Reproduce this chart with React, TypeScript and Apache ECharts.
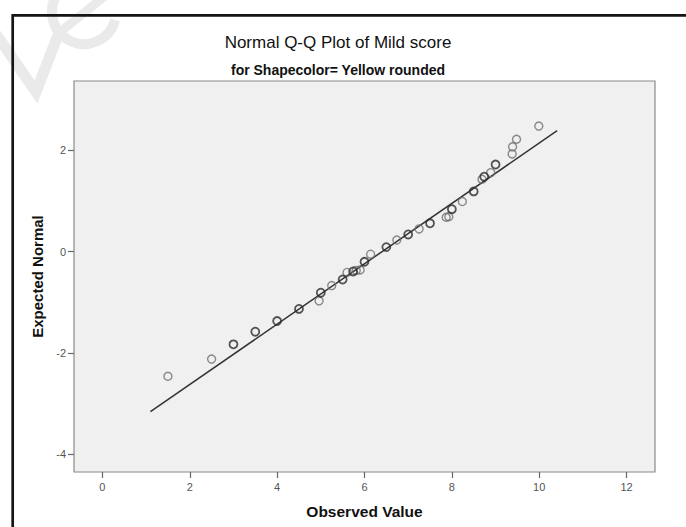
import React, { useEffect, useRef } from 'react';
import * as echarts from 'echarts';

const titleText = 'Normal Q-Q Plot of Mild score';
const subtitleText = 'for Shapecolor= Yellow rounded';
const xAxisTitle = 'Observed Value';
const yAxisTitle = 'Expected Normal';

const xTicks = [0, 2, 4, 6, 8, 10, 12];
const yTicks = [-4, -2, 0, 2];

const tiedObserved = [3.0, 3.5, 4.0, 4.5, 5.0, 5.5, 5.74, 6.0, 6.5, 7.0, 7.5, 8.0, 8.5, 8.74, 9.0];
const tiedExpected = [-1.83, -1.58, -1.37, -1.13, -0.81, -0.55, -0.39, -0.2, 0.09, 0.34, 0.56, 0.84, 1.19, 1.48, 1.72];

const singleObserved = [1.5, 2.5, 4.96, 5.25, 5.6, 5.81, 5.9, 6.14, 6.74, 7.25, 7.87, 7.93, 8.24, 8.69, 8.89, 9.38, 9.39, 9.48, 9.99];
const singleExpected = [-2.46, -2.12, -0.97, -0.67, -0.41, -0.37, -0.36, -0.05, 0.23, 0.45, 0.68, 0.69, 0.99, 1.43, 1.56, 1.93, 2.07, 2.22, 2.48];

const refLineObserved = [1.1, 10.41];
const refLineExpected = [-3.16, 2.39];

const FONT = '"Liberation Sans", Arial, sans-serif';
const WM = '#eaeaea';

export default function App() {
  const ref = useRef<HTMLDivElement>(null);

  useEffect(() => {
    document.body.style.margin = '0';
    const chart = echarts.init(ref.current!, null, { renderer: 'svg' });
    const zip = (a: number[], b: number[]) => a.map((v, i) => [v, b[i]]);

    chart.setOption({
      animation: false,
      backgroundColor: '#ffffff',
      grid: {
        left: 74,
        top: 81,
        width: 581,
        height: 391,
        show: true,
        backgroundColor: '#f0f0f0',
        borderColor: '#8a8a8a',
        borderWidth: 1.2,
        containLabel: false,
      },
      xAxis: {
        type: 'value',
        min: -0.65,
        max: 12.65,
        axisLine: { show: false, onZero: false },
        splitLine: { show: false },
        axisTick: {
          show: true,
          length: 6,
          customValues: xTicks,
          lineStyle: { color: '#666', width: 1.2 },
        },
        axisLabel: {
          customValues: xTicks,
          margin: 9,
          fontSize: 11,
          color: '#555',
          fontFamily: FONT,
        },
        name: xAxisTitle,
        nameLocation: 'middle',
        nameGap: 31,
        nameTextStyle: { fontWeight: 'bold', fontSize: 15.5, color: '#111', fontFamily: FONT },
      },
      yAxis: {
        type: 'value',
        min: -4.35,
        max: 3.37,
        axisLine: { show: false, onZero: false },
        splitLine: { show: false },
        axisTick: {
          show: true,
          length: 6,
          customValues: yTicks,
          lineStyle: { color: '#666', width: 1.2 },
        },
        axisLabel: {
          customValues: yTicks,
          margin: 8,
          fontSize: 11,
          color: '#555',
          fontFamily: FONT,
        },
        name: yAxisTitle,
        nameLocation: 'middle',
        nameGap: 27,
        nameTextStyle: { fontWeight: 'bold', fontSize: 15, color: '#111', fontFamily: FONT },
      },
      graphic: [
        {
          type: 'polyline',
          silent: true,
          z: -10,
          shape: { points: [[-4, 34], [36, 92], [60, 30]] },
          style: { stroke: WM, lineWidth: 11, fill: 'none', lineJoin: 'miter' },
        },
        {
          type: 'arc',
          silent: true,
          z: -10,
          shape: { cx: 84, cy: 12, r: 32, startAngle: 0.25, endAngle: -0.45, clockwise: true },
          style: { stroke: WM, lineWidth: 10, fill: 'none' },
        },
        {
          type: 'line',
          silent: true,
          z: -10,
          shape: { x1: 60, y1: 32, x2: 110, y2: -8 },
          style: { stroke: WM, lineWidth: 9 },
        },
        {
          type: 'rect',
          shape: { x: 12.7, y: 15.3, width: 720, height: 620 },
          silent: true,
          style: { fill: 'none', stroke: '#151515', lineWidth: 2.7 },
        },
        {
          type: 'text',
          x: 338,
          y: 42,
          style: {
            text: titleText,
            fontSize: 17,
            fontFamily: FONT,
            fill: '#111',
            textAlign: 'center',
            textVerticalAlign: 'middle',
          },
        },
        {
          type: 'text',
          x: 338,
          y: 70,
          style: {
            text: subtitleText,
            fontSize: 14,
            fontWeight: 'bold',
            fontFamily: FONT,
            fill: '#111',
            textAlign: 'center',
            textVerticalAlign: 'middle',
          },
        },
      ],
      series: [
        {
          type: 'line',
          data: zip(refLineObserved, refLineExpected),
          symbol: 'none',
          silent: true,
          lineStyle: { color: '#333', width: 1.5 },
          z: 1,
        },
        {
          type: 'scatter',
          data: zip(singleObserved, singleExpected),
          symbol: 'circle',
          symbolSize: 8,
          silent: true,
          itemStyle: { color: 'rgba(0,0,0,0)', borderColor: '#6e6e6e', borderWidth: 1.4 },
          z: 2,
        },
        {
          type: 'scatter',
          data: zip(tiedObserved, tiedExpected),
          symbol: 'circle',
          symbolSize: 8,
          silent: true,
          itemStyle: { color: 'rgba(0,0,0,0)', borderColor: '#2a2a2a', borderWidth: 1.8 },
          z: 3,
        },
      ],
    });

    return () => chart.dispose();
  }, []);

  return <div ref={ref} style={{ width: 686, height: 527 }} />;
}
